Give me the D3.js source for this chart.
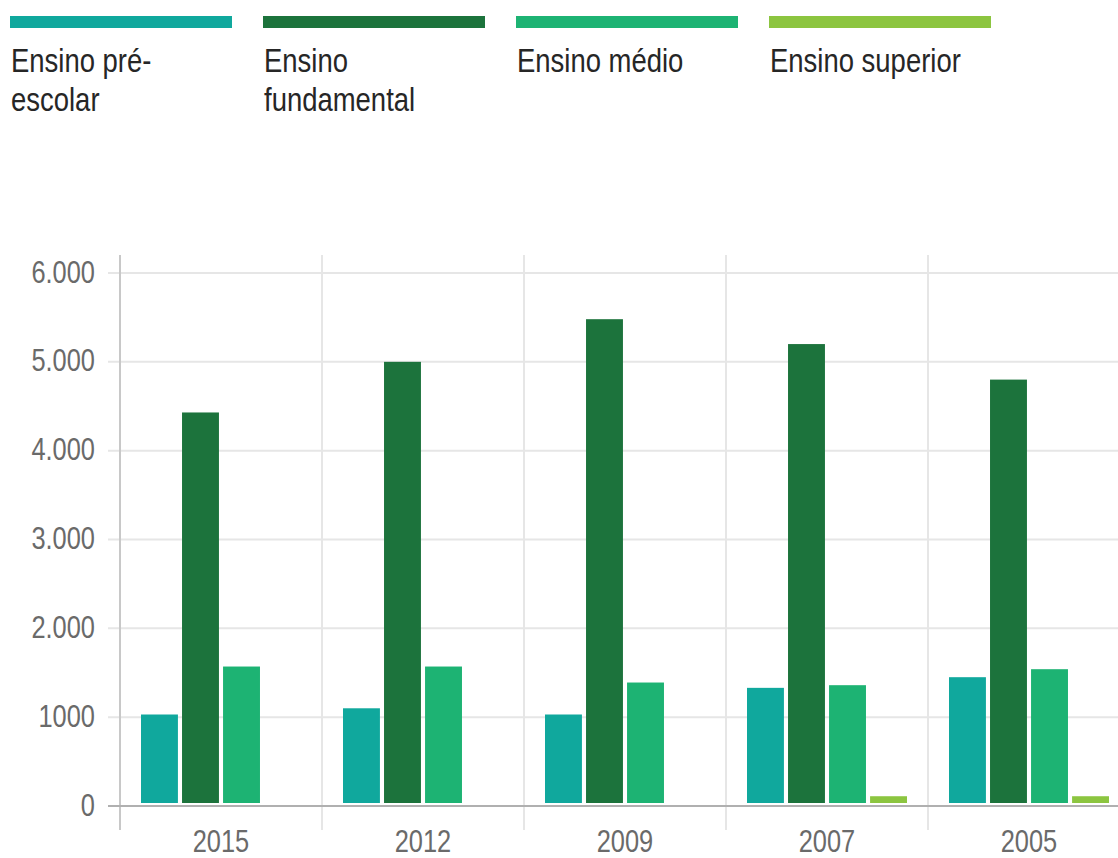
<!DOCTYPE html>
<html>
<head>
<meta charset="utf-8">
<script src="https://cdn.jsdelivr.net/npm/d3@7"></script>
<style>
	body { margin: 0; background: #fff; }
	svg { display: block; }
	.legendText { font-family: "Liberation Sans", Arial, sans-serif; font-size: 33.5px; fill: #262626; }
	.tickText { font-family: "Liberation Sans", Arial, sans-serif; font-size: 31px; fill: #6a6a6a; }
</style>
</head>
<body>
<div id="chart"></div>
<script>
// data
var years = ['2015', '2012', '2009', '2007', '2005'];
var seriesNames = ['Ensino pré-escolar', 'Ensino fundamental', 'Ensino médio', 'Ensino superior'];
var legendLines = [['Ensino pré-', 'escolar'], ['Ensino', 'fundamental'], ['Ensino médio'], ['Ensino superior']];
var preEscolar = [1030, 1100, 1030, 1330, 1450];
var fundamental = [4430, 5000, 5480, 5200, 4800];
var medio = [1570, 1570, 1390, 1360, 1540];
var superior = [0, 0, 0, 110, 110];
var yTicks = [0, 1000, 2000, 3000, 4000, 5000, 6000];
var yTickLabels = ['0', '1000', '2.000', '3.000', '4.000', '5.000', '6.000'];

var colors = ['#10a89d', '#1c733c', '#1db373', '#8cc540'];
var seriesValues = [preEscolar, fundamental, medio, superior];

var width = 1118, height = 858;
var narrow = 0.82;

var svg = d3.select('#chart')
	.append('svg')
	.attr('width', width)
	.attr('height', height);

// legend
var legend = svg.append('g').attr('class', 'legend');
var legendKeys = legend.selectAll('.key')
	.data(seriesNames).enter()
	.append('g')
	.attr('class', 'key')
	.attr('transform', function(d, i) { return 'translate(' + (10 + i * 253) + ',0)'; });

legendKeys.append('rect')
	.attr('x', 0)
	.attr('y', 16)
	.attr('width', 222)
	.attr('height', 12)
	.attr('fill', function(d, i) { return colors[i]; });

legendKeys.each(function(d, i) {
	var key = d3.select(this);
	legendLines[i].forEach(function(line, j) {
		key.append('text')
			.attr('class', 'legendText')
			.attr('transform', 'translate(1,' + (72 + j * 39) + ') scale(' + narrow + ',1)')
			.text(line);
	});
});

// scales
var x0 = d3.scaleBand()
	.domain(years)
	.range([120, 120 + 202 * years.length])
	.padding(0);

var x1 = d3.scaleBand()
	.domain(d3.range(seriesNames.length))
	.range([21, 181])
	.paddingInner(0.1)
	.paddingOuter(0);

var y = d3.scaleLinear()
	.domain([0, 6000])
	.range([806, 273]);

// horizontal grid
svg.append('g')
	.attr('class', 'grid')
	.selectAll('line')
	.data(yTicks.slice(1)).enter()
	.append('line')
	.attr('x1', 108)
	.attr('x2', width)
	.attr('y1', function(d) { return y(d); })
	.attr('y2', function(d) { return y(d); })
	.attr('stroke', '#e6e6e6')
	.attr('stroke-width', 2);

// vertical grid at band edges
svg.append('g')
	.attr('class', 'vgrid')
	.selectAll('line')
	.data(years).enter()
	.append('line')
	.attr('x1', function(d) { return x0(d); })
	.attr('x2', function(d) { return x0(d); })
	.attr('y1', 255)
	.attr('y2', 830)
	.attr('stroke', function(d, i) { return i === 0 ? '#c8c8c8' : '#e6e6e6'; })
	.attr('stroke-width', 2);

// bars
var groups = svg.selectAll('g.year')
	.data(years).enter()
	.append('g')
	.attr('class', 'year')
	.attr('transform', function(d) { return 'translate(' + x0(d) + ',0)'; });

groups.selectAll('rect')
	.data(function(d, i) {
		return seriesValues.map(function(vals, s) { return {s: s, value: vals[i]}; });
	})
	.enter().append('rect')
	.filter(function(d) { return d.value > 0; })
	.attr('x', function(d) { return x1(d.s); })
	.attr('y', function(d) { return y(d.value); })
	.attr('width', x1.bandwidth())
	.attr('height', function(d) { return y(0) - 3 - y(d.value); })
	.attr('fill', function(d) { return colors[d.s]; });

// baseline
svg.append('line')
	.attr('x1', 108)
	.attr('x2', width)
	.attr('y1', y(0))
	.attr('y2', y(0))
	.attr('stroke', '#b0b0b0')
	.attr('stroke-width', 2);

// y axis labels
var yAxis = d3.axisLeft(y)
	.tickValues(yTicks)
	.tickSize(0)
	.tickFormat(function(d, i) { return yTickLabels[i]; });

var yG = svg.append('g')
	.attr('class', 'axis axis--y')
	.attr('transform', 'translate(95,0)')
	.call(yAxis);
yG.select('.domain').remove();
yG.selectAll('text')
	.attr('class', 'tickText')
	.attr('x', null)
	.attr('dy', null)
	.attr('fill', null)
	.attr('font-size', null)
	.attr('font-family', null)
	.attr('transform', 'translate(0,9) scale(' + narrow + ',1)')
	.style('text-anchor', 'end');

// x axis labels
var xAxis = d3.axisBottom(x0).tickSize(0);
var xG = svg.append('g')
	.attr('class', 'axis axis--x')
	.attr('transform', 'translate(0,852)')
	.call(xAxis);
xG.select('.domain').remove();
xG.selectAll('text')
	.attr('class', 'tickText')
	.attr('y', null)
	.attr('dy', null)
	.attr('fill', null)
	.attr('font-size', null)
	.attr('font-family', null)
	.attr('transform', 'scale(' + narrow + ',1)')
	.style('text-anchor', 'middle');
</script>
</body>
</html>
